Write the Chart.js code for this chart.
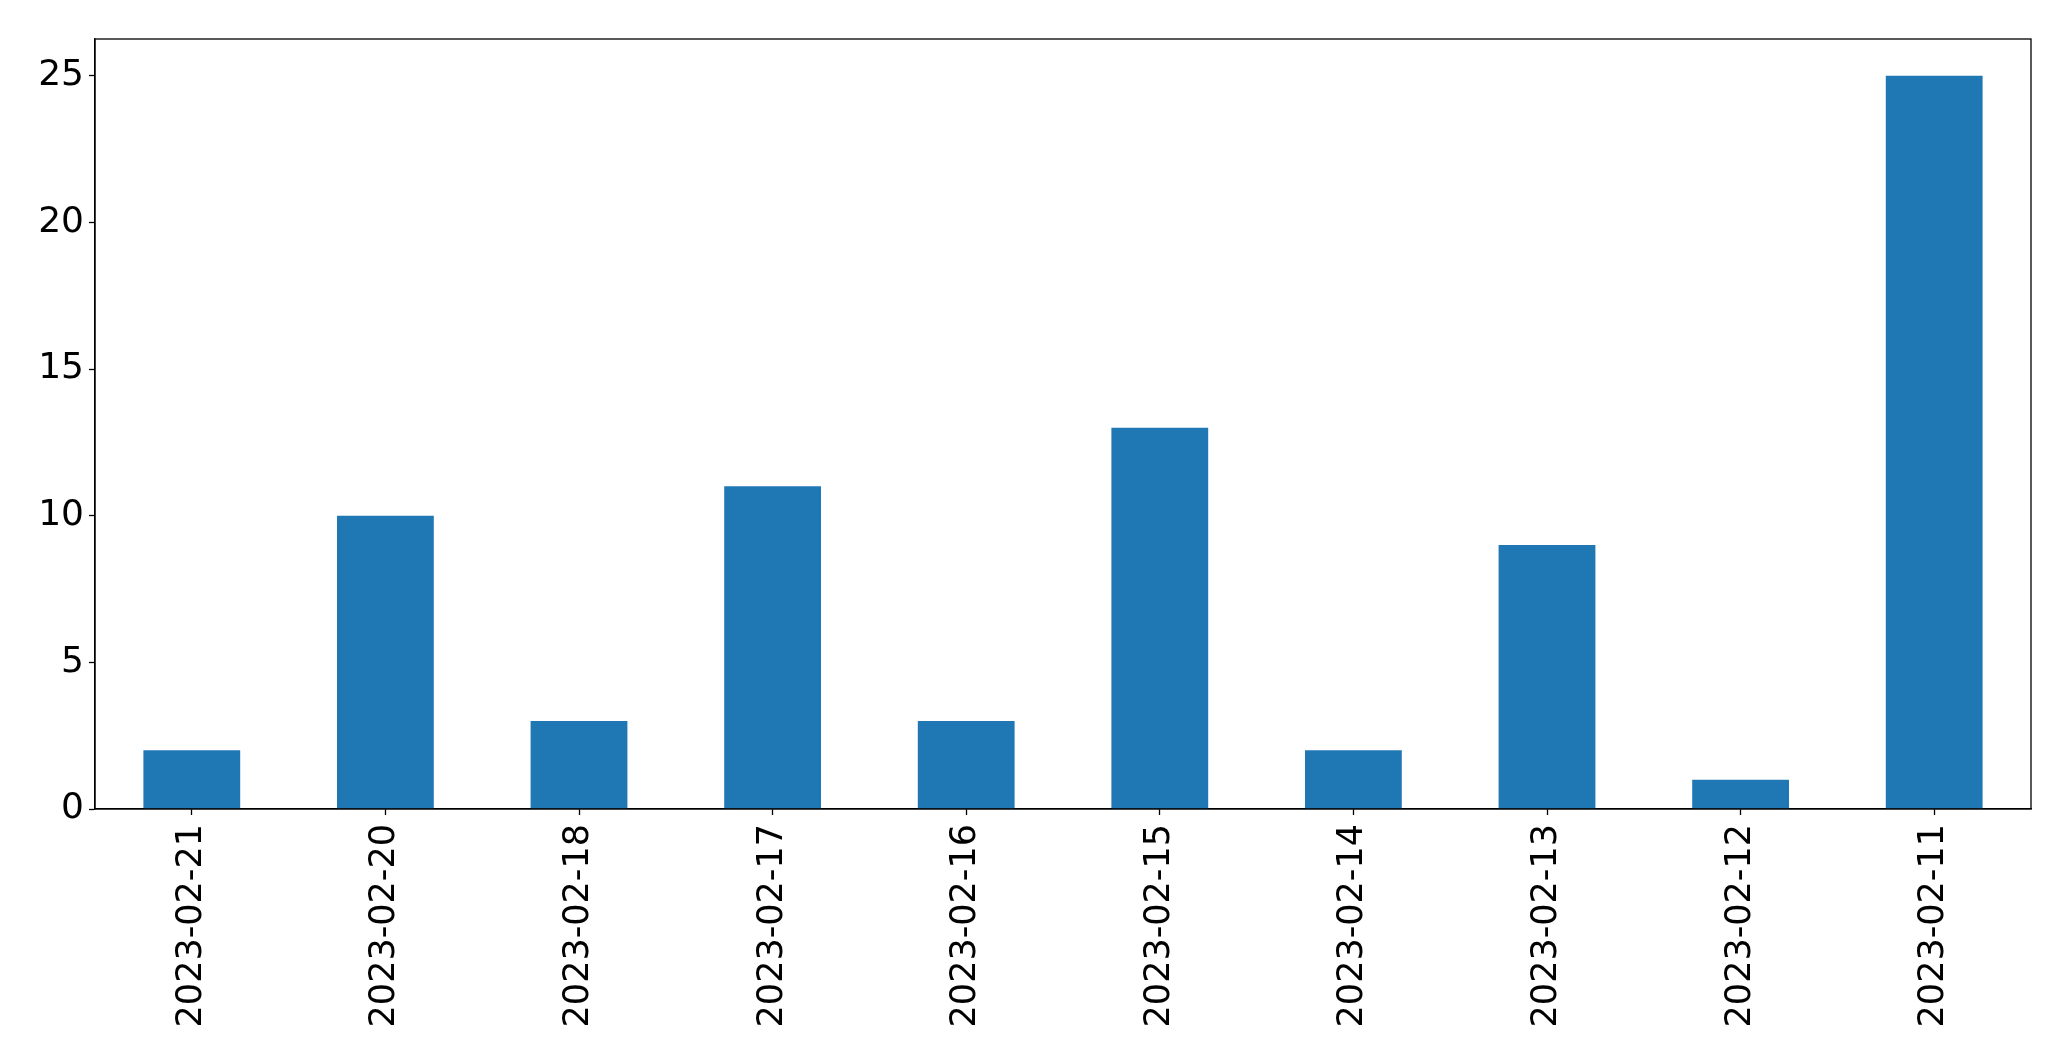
<!DOCTYPE html>
<html>
<head>
<meta charset="utf-8">
<script src="https://cdn.jsdelivr.net/npm/chart.js@4"></script>
<style>
  html, body { margin: 0; padding: 0; background: #fff; }
  canvas { display: block; }
</style>
</head>
<body>
<canvas id="bar-chart" width="2071" height="1061"></canvas>
<script>
const dates = ["2023-02-21", "2023-02-20", "2023-02-18", "2023-02-17", "2023-02-16",
               "2023-02-15", "2023-02-14", "2023-02-13", "2023-02-12", "2023-02-11"]
const counts = [2, 10, 3, 11, 3, 13, 2, 9, 1, 25]
const yTicks = [0, 5, 10, 15, 20, 25]

// draw the box round the plot like matplotlib does
const frame = {
    id: "frame",
    afterDraw(chart) {
        const { ctx, chartArea: a } = chart
        ctx.save()
        ctx.strokeStyle = "#000"
        ctx.lineWidth = 1.3
        ctx.strokeRect(a.left, a.top, a.right - a.left, a.bottom - a.top)
        ctx.restore()
    }
}

let barCtx = document.getElementById("bar-chart").getContext("2d")

let barChart = new Chart(barCtx, {
    type: "bar",
    data: {
        labels: dates,
        datasets: [{
            data: counts,
            backgroundColor: "#1f77b4",
            barPercentage: 0.5,
            categoryPercentage: 1,
        }],
    },
    options: {
        responsive: false,
        animation: false,
        devicePixelRatio: 1,
        layout: { padding: { top: 39, right: 40, left: 0, bottom: 0 } },
        plugins: {
            legend: { display: false },
            tooltip: { enabled: false },
        },
        scales: {
            x: {
                grid: { display: true, offset: false, drawOnChartArea: false, tickLength: 6, tickColor: "#000", tickWidth: 1.3 },
                border: { display: true, color: "#000", width: 1.3 },
                ticks: {
                    color: "#000",
                    font: { family: "DejaVu Sans", size: 35 },
                    minRotation: 90,
                    maxRotation: 90,
                    autoSkip: false,
                    padding: 9,
                },
                afterFit(scale) { scale.height = 252 },
            },
            y: {
                min: 0,
                max: 26.25,
                grid: { display: true, drawOnChartArea: false, tickLength: 6, tickColor: "#000", tickWidth: 1.3 },
                border: { display: true, color: "#000", width: 1.3 },
                ticks: {
                    color: "#000",
                    font: { family: "DejaVu Sans", size: 36 },
                    padding: 5,
                    includeBounds: false,
                },
                afterBuildTicks(scale) { scale.ticks = yTicks.map(v => ({ value: v })) },
                afterFit(scale) { scale.width = 95 },
            },
        },
    },
    plugins: [frame],
})
</script>
</body>
</html>
